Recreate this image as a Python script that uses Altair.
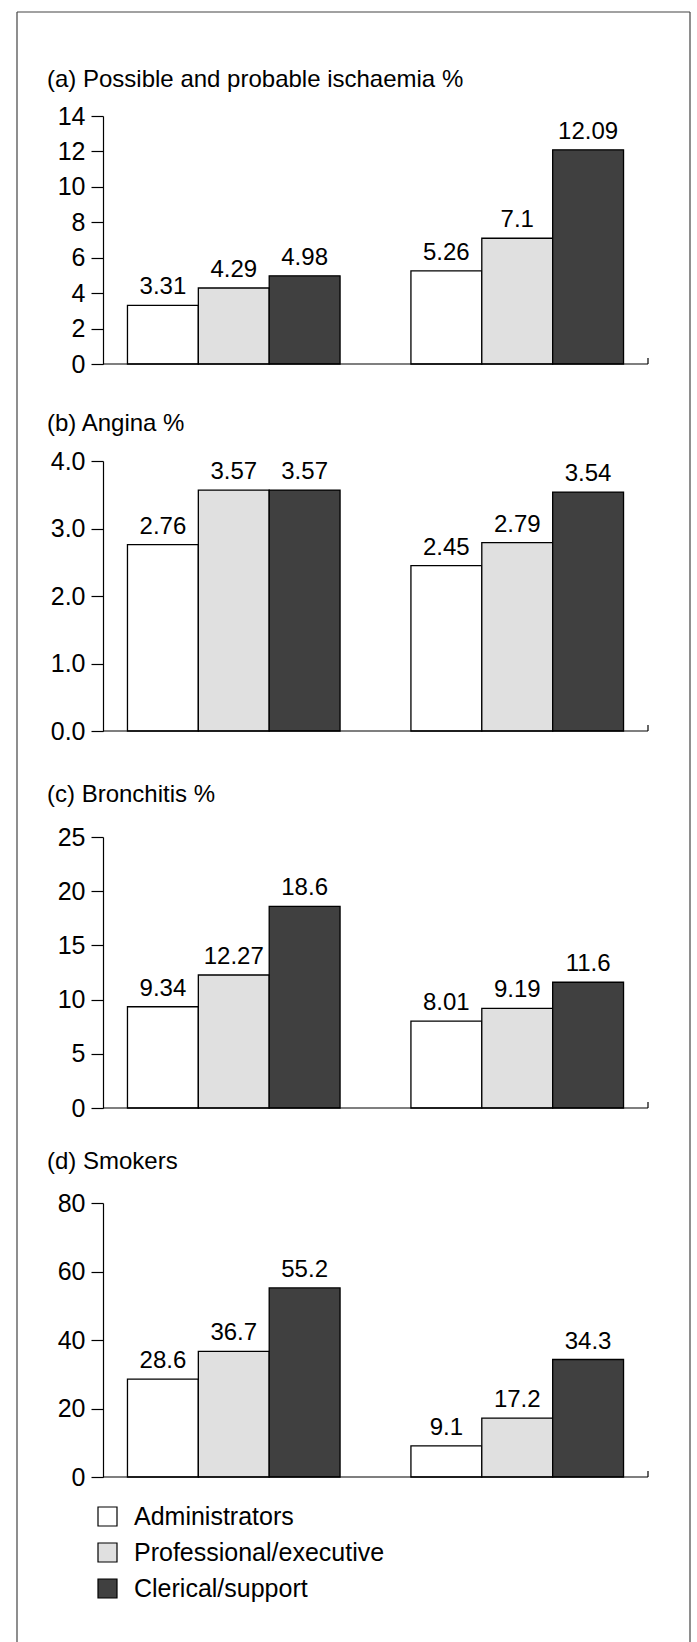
import altair as alt
import pandas as pd

FONT = "Liberation Sans"

occupations = ["Administrators", "Professional/executive", "Clerical/support"]
groups = ["Group 1", "Group 2"]
fills = ["#ffffff", "#e0e0e0", "#404040"]

titles = [
    "(a) Possible and probable ischaemia %",
    "(b) Angina %",
    "(c) Bronchitis %",
    "(d) Smokers",
]

ischaemia_g1 = [3.31, 4.29, 4.98]
ischaemia_g2 = [5.26, 7.1, 12.09]
angina_g1 = [2.76, 3.57, 3.57]
angina_g2 = [2.45, 2.79, 3.54]
bronchitis_g1 = [9.34, 12.27, 18.6]
bronchitis_g2 = [8.01, 9.19, 11.6]
smokers_g1 = [28.6, 36.7, 55.2]
smokers_g2 = [9.1, 17.2, 34.3]

ticks_a = [0, 2, 4, 6, 8, 10, 12, 14]
ticks_b = [0, 1, 2, 3, 4]
ticks_c = [0, 5, 10, 15, 20, 25]
ticks_d = [0, 20, 40, 60, 80]

W = 545

one = pd.DataFrame({"k": [0]})

legend = alt.Legend(
    orient="none", legendX=-8, legendY=1492, title=None,
    symbolType="square", symbolSize=361, symbolStrokeColor="black",
    symbolStrokeWidth=1.2, labelFontSize=25, labelFont=FONT, labelColor="black",
    labelLimit=0, rowPadding=10, labelOffset=14, padding=0, direction="vertical",
)


def panel(title, g1, g2, dom, ticks, fmt, plot_h, cell_h, toff):
    df = pd.DataFrame({
        "group": [groups[0]] * 3 + [groups[1]] * 3,
        "occ": occupations * 2,
        "value": g1 + g2,
    })
    df["label"] = df["value"].map(lambda v: f"{v:g}")
    yscale = alt.Scale(domain=dom, range=[plot_h, 0], nice=False, zero=True)
    x = alt.X("group:N", sort=groups, axis=None,
              scale=alt.Scale(paddingInner=0.25, paddingOuter=0.0863))
    xo = alt.XOffset("occ:N", sort=occupations,
                     scale=alt.Scale(domain=occupations, paddingInner=0, paddingOuter=0))
    y = alt.Y("value:Q", scale=yscale,
              axis=alt.Axis(values=ticks, format=fmt, title=None))
    base = alt.Chart(df)
    bars = base.mark_bar(stroke="black", strokeWidth=1.3).encode(
        x=x, xOffset=xo, y=y,
        color=alt.Color("occ:N", scale=alt.Scale(domain=occupations, range=fills),
                        legend=legend),
    )
    text = base.mark_text(baseline="alphabetic", dy=-11, fontSize=24, font=FONT,
                          color="black").encode(x=x, xOffset=xo, y=y, text="label:N")
    xline = alt.Chart(one).mark_rule(color="black", strokeWidth=1.2).encode(
        x=alt.value(0), x2=alt.value(W), y=alt.value(plot_h))
    endtick = alt.Chart(one).mark_rule(color="black", strokeWidth=1.2).encode(
        x=alt.value(W), y=alt.value(plot_h), y2=alt.value(plot_h - 6))
    return alt.layer(bars, text, xline, endtick).properties(
        width=W, height=cell_h,
        title=alt.TitleParams(title, anchor="start", frame="group", dx=-56,
                              offset=toff, fontSize=24, fontWeight="normal",
                              font=FONT, color="black"),
    )


pa = panel(titles[0], ischaemia_g1, ischaemia_g2, [0, 14], ticks_a, "d", 248, 345, 12)
pb = panel(titles[1], angina_g1, angina_g2, [0, 4], ticks_b, ".1f", 270, 376, 13)
pc = panel(titles[2], bronchitis_g1, bronchitis_g2, [0, 25], ticks_c, "d", 271, 366, 18)
pd_ = panel(titles[3], smokers_g1, smokers_g2, [0, 80], ticks_d, "d", 274, 274, 17)

bstyle = dict(color="#444444", strokeWidth=1.2)
border = alt.layer(
    alt.Chart(one).mark_rule(**bstyle).encode(x=alt.value(-86), x2=alt.value(587), y=alt.value(0)),
    alt.Chart(one).mark_rule(**bstyle).encode(x=alt.value(-86), y=alt.value(0), y2=alt.value(1640)),
    alt.Chart(one).mark_rule(**bstyle).encode(x=alt.value(587), y=alt.value(0), y2=alt.value(1640)),
).properties(width=W, height=104)

chart = alt.vconcat(border, pa, pb, pc, pd_, spacing=0, bounds="flush").configure_view(
    stroke=None
).configure_axisY(
    labelFontSize=25, labelFont=FONT, labelColor="black", tickSize=12,
    tickColor="black", tickWidth=1.2, domainColor="black", domainWidth=1.2,
    labelPadding=6, grid=False,
).properties(
    padding={"left": 16, "top": 11, "right": 5, "bottom": 0},
    background="white",
)

chart.save("out.html", embed_options={"renderer": "svg", "actions": False})
